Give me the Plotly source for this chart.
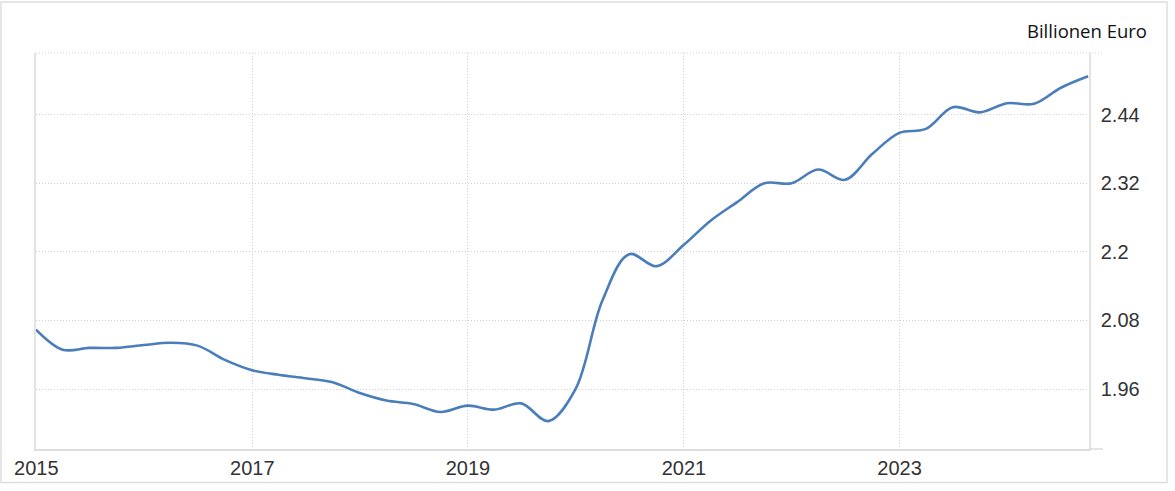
import plotly.graph_objects as go

# Quarterly observations (quarter-end dates), values in Billionen Euro
dates = [
    "2014-12-31", "2015-03-31", "2015-06-30", "2015-09-30",
    "2015-12-31", "2016-03-31", "2016-06-30", "2016-09-30",
    "2016-12-31", "2017-03-31", "2017-06-30", "2017-09-30",
    "2017-12-31", "2018-03-31", "2018-06-30", "2018-09-30",
    "2018-12-31", "2019-03-31", "2019-06-30", "2019-09-30",
    "2019-12-31", "2020-03-31", "2020-06-30", "2020-09-30",
    "2020-12-31", "2021-03-31", "2021-06-30", "2021-09-30",
    "2021-12-31", "2022-03-31", "2022-06-30", "2022-09-30",
    "2022-12-31", "2023-03-31", "2023-06-30", "2023-09-30",
    "2023-12-31", "2024-03-31", "2024-06-30", "2024-09-30",
]
values = [
    2.064, 2.029, 2.032, 2.032,
    2.037, 2.041, 2.036, 2.011,
    1.993, 1.985, 1.979, 1.972,
    1.953, 1.940, 1.934, 1.920,
    1.931, 1.924, 1.935, 1.904,
    1.960, 2.115, 2.196, 2.175,
    2.212, 2.254, 2.287, 2.320,
    2.320, 2.344, 2.326, 2.371,
    2.408, 2.415, 2.453, 2.444,
    2.460, 2.459, 2.487, 2.507,
]

x_tick_vals = ["2015-01-01", "2017-01-01", "2019-01-01", "2021-01-01", "2023-01-01"]
x_tick_text = ["2015", "2017", "2019", "2021", "2023"]
y_tick_vals = [1.96, 2.08, 2.2, 2.32, 2.44]
y_tick_text = ["1.96", "2.08", "2.2", "2.32", "2.44"]
unit_label = "Billionen Euro"

W, H = 1175, 491
L, R, T, B = 36, 86, 53, 35
pw, ph = W - L - R, H - T - B

def px_to_paper_x(px):
    return (px - L) / pw

def px_to_paper_y(py):
    return (H - B - py) / ph

fig = go.Figure()
fig.add_trace(go.Scatter(
    x=dates, y=values, mode="lines",
    line=dict(color="#4a7ebb", width=2.6, shape="spline", smoothing=1.0),
    hoverinfo="x+y", showlegend=False,
))

grid_col = "#d2d2d2"
grid_dash = "1px,2px"
line_col = "#e3e3e3"

fig.update_layout(
    width=W, height=H,
    margin=dict(l=L, r=R, t=T, b=B, pad=0),
    paper_bgcolor="white", plot_bgcolor="white",
    font=dict(family="Liberation Sans, Arial, sans-serif", size=20, color="#333333"),
    xaxis=dict(
        type="date",
        range=["2014-12-31", "2024-10-03"],
        tickmode="array", tickvals=x_tick_vals, ticktext=x_tick_text,
        showgrid=True, gridcolor=grid_col, griddash=grid_dash, gridwidth=1,
        showline=True, linecolor="#dddddd", linewidth=1.5,
        ticks="", zeroline=False,
        tickfont=dict(size=20, color="#333333"),
    ),
    yaxis=dict(
        side="right",
        range=[1.8552, 2.5478],
        tickmode="array", tickvals=y_tick_vals, ticktext=y_tick_text,
        showgrid=True, gridcolor=grid_col, griddash=grid_dash, gridwidth=1,
        showline=True, linecolor=line_col, linewidth=1.5, mirror=True,
        ticks="outside", ticklen=6, tickcolor="rgba(0,0,0,0)",
        zeroline=False,
        tickfont=dict(size=20, color="#333333"),
    ),
    shapes=[
        # top dotted border extending past right axis
        dict(type="line", xref="paper", yref="paper",
             x0=0, x1=px_to_paper_x(1103), y0=1, y1=1,
             line=dict(color=grid_col, width=1, dash=grid_dash)),
        # bottom axis extension
        dict(type="line", xref="paper", yref="paper",
             x0=1, x1=px_to_paper_x(1103), y0=0, y1=0,
             line=dict(color="#dddddd", width=1.5)),
        # outer frame
        dict(type="rect", xref="paper", yref="paper",
             x0=px_to_paper_x(1), x1=px_to_paper_x(1167),
             y0=px_to_paper_y(490), y1=px_to_paper_y(1),
             line=dict(color="#dedede", width=1.5), layer="below"),
    ],
    annotations=[
        dict(text=unit_label, xref="paper", yref="paper",
             x=px_to_paper_x(1149), y=px_to_paper_y(30),
             xanchor="right", yanchor="middle", showarrow=False,
             font=dict(family="Open Sans, Noto Sans, sans-serif", size=18.5, color="#111111")),
    ],
)

fig.write_html(
    "out.html",
    config={"displayModeBar": False},
    post_script="document.body.style.margin='0';document.body.style.padding='0';document.body.style.overflow='hidden';",
)
